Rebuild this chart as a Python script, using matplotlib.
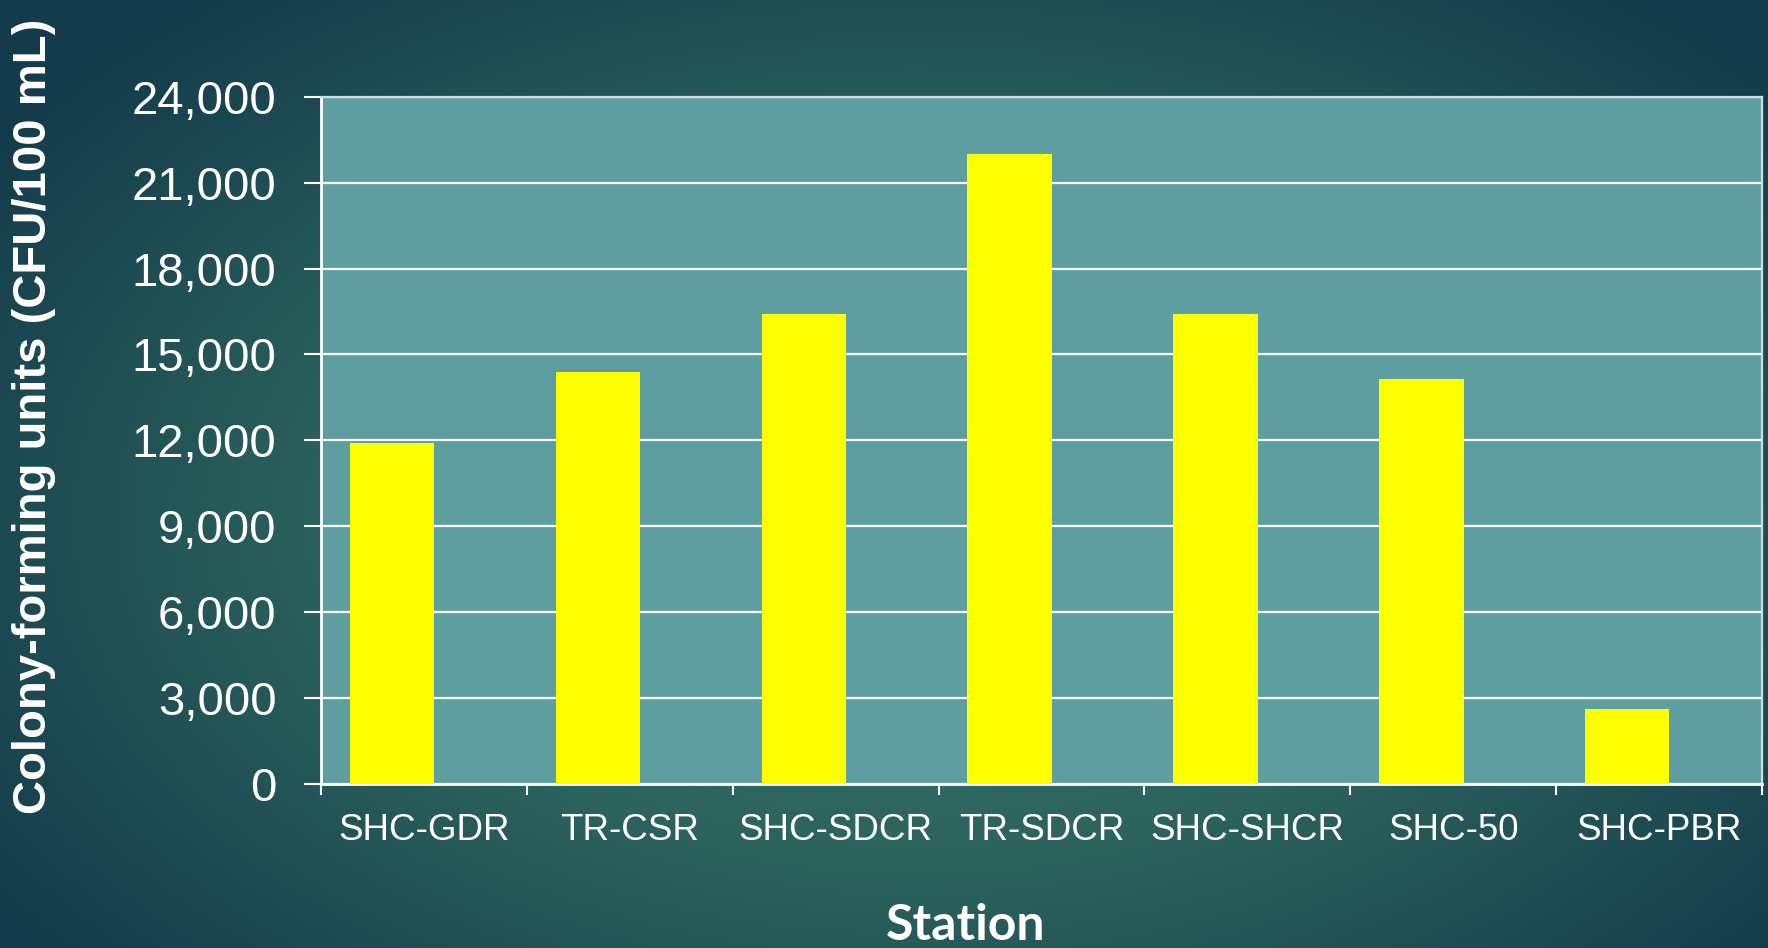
import numpy as np
import matplotlib
matplotlib.use("Agg")
import matplotlib.pyplot as plt
from matplotlib.colors import LinearSegmentedColormap
from matplotlib.ticker import FuncFormatter, FixedLocator

# data
stations = ["SHC-GDR", "TR-CSR", "SHC-SDCR", "TR-SDCR", "SHC-SHCR", "SHC-50", "SHC-PBR"]
cfu = [11900, 14400, 16400, 22000, 16400, 14150, 2600]
y_ticks = [0, 3000, 6000, 9000, 12000, 15000, 18000, 21000, 24000]

W, H, DPI = 1768, 948, 100
fig = plt.figure(figsize=(W / DPI, H / DPI), dpi=DPI)

# background: radial teal gradient
bg = fig.add_axes([0, 0, 1, 1], zorder=-10)
yy, xx = np.mgrid[0:1:300j, 0:1:560j]
r = np.sqrt(((xx - 0.52) / 0.75) ** 2 + ((yy - 0.45) / 0.85) ** 2)
r = np.clip(r / 0.85, 0, 1)
cmap = LinearSegmentedColormap.from_list("bg", ["#3a7a6d", "#2c635d", "#143b4b"])
bg.imshow(r, cmap=cmap, extent=[0, 1, 0, 1], aspect="auto", origin="lower")
bg.set_axis_off()

ax = fig.add_axes([321 / W, 1 - 783.6 / H, (1762 - 321) / W, (783.6 - 97) / H])
ax.set_facecolor("#5f9ea0")

x = np.arange(len(stations))
ax.bar(x + 0.14, cfu, width=0.41, align="edge", color="#ffff00", zorder=3)

ax.set_xlim(0, len(stations))
ax.set_ylim(0, 24000)
ax.set_yticks(y_ticks)
ax.yaxis.set_major_formatter(FuncFormatter(lambda v, p: f"{int(v):,}"))
ax.grid(axis="y", color="white", linewidth=1.6, zorder=1)

# category boundaries as major ticks, labels at centres
ax.xaxis.set_major_locator(FixedLocator(np.arange(len(stations) + 1)))
ax.xaxis.set_minor_locator(FixedLocator(x + 0.5))
ax.set_xticklabels([])
ax.set_xticklabels(stations, minor=True)
ax.tick_params(axis="x", which="major", length=8, width=1.5, color="white", direction="out")
ax.tick_params(axis="x", which="minor", length=0, pad=21, labelsize=26.5, labelcolor="white")
ax.tick_params(axis="y", length=12, width=1.5, color="white", pad=20, labelsize=34, labelcolor="white")
for lab in ax.get_xticklabels(minor=True) + ax.get_yticklabels():
    lab.set_family("Liberation Sans")

for side in ["left", "bottom"]:
    ax.spines[side].set_color("white")
    ax.spines[side].set_linewidth(2)
for side in ["top", "right"]:
    ax.spines[side].set_color("#d5dcdc")
    ax.spines[side].set_linewidth(1.6)

fig.text(34 / W, 1 - 416 / H, "Colony-forming units (CFU/100 mL)", rotation=90,
         ha="center", va="center", color="white", fontsize=34, fontweight="bold",
         family="Liberation Sans")
fig.text(966 / W, 0.5 / H, "Station", ha="center", va="bottom", color="white",
         fontsize=36, fontweight="bold", family="Lato")

fig.savefig("out.png", dpi=DPI)
